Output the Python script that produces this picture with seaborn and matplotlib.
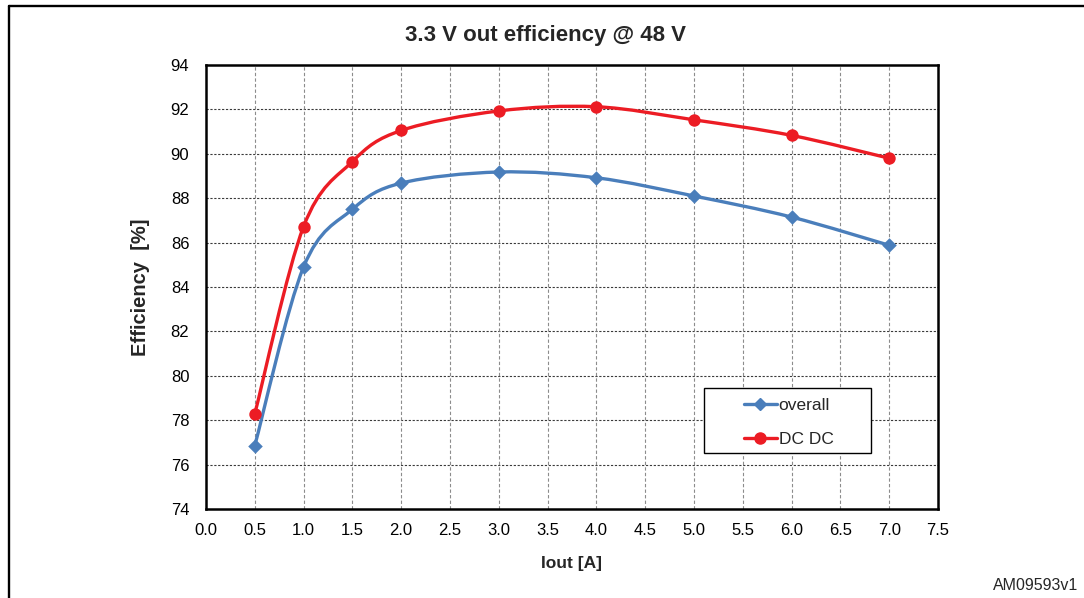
import matplotlib
matplotlib.use("Agg")
import matplotlib.pyplot as plt
from matplotlib.path import Path
from matplotlib.patches import PathPatch, Rectangle
from matplotlib.lines import Line2D
import seaborn as sns

# Output current [A] and measured efficiency [%]
iout = [0.5, 1.0, 1.5, 2.0, 3.0, 4.0, 5.0, 6.0, 7.0]
eff_overall = [76.85, 84.9, 87.5, 88.68, 89.18, 88.92, 88.1, 87.15, 85.88]
eff_dcdc = [78.28, 86.72, 89.65, 91.05, 91.93, 92.12, 91.53, 90.83, 89.8]

x_ticks = [0.0, 0.5, 1.0, 1.5, 2.0, 2.5, 3.0, 3.5, 4.0, 4.5, 5.0, 5.5, 6.0, 6.5, 7.0, 7.5]
y_ticks = [74, 76, 78, 80, 82, 84, 86, 88, 90, 92, 94]

BLUE = "#4A7EBB"
RED = "#EC1C24"

sns.set_theme(style="white")
plt.rcParams["font.family"] = ["Liberation Sans", "DejaVu Sans"]


def smooth_path(xs, ys):
    """Cubic Bezier path through the points (Catmull-Rom style control points)."""
    pts = list(zip(xs, ys))
    verts = [pts[0]]
    codes = [Path.MOVETO]
    n = len(pts)
    for i in range(n - 1):
        p0 = pts[max(i - 1, 0)]
        p1 = pts[i]
        p2 = pts[i + 1]
        p3 = pts[min(i + 2, n - 1)]
        c1 = (p1[0] + (p2[0] - p0[0]) / 6, p1[1] + (p2[1] - p0[1]) / 6)
        c2 = (p2[0] - (p3[0] - p1[0]) / 6, p2[1] - (p3[1] - p1[1]) / 6)
        verts += [c1, c2, p2]
        codes += [Path.CURVE4] * 3
    return Path(verts, codes)


fig = plt.figure(figsize=(10.84, 5.98), dpi=100)
ax = fig.add_axes([0.190, 0.1488, 0.6753, 0.7425])

for ys, color in [(eff_overall, BLUE), (eff_dcdc, RED)]:
    ax.add_patch(PathPatch(smooth_path(iout, ys), facecolor="none",
                           edgecolor=color, lw=2.4, zorder=3,
                           capstyle="round", joinstyle="round"))

sns.scatterplot(x=iout, y=eff_overall, marker="D", s=55, color=BLUE,
                edgecolor=BLUE, linewidth=0, ax=ax, zorder=4)
sns.scatterplot(x=iout, y=eff_dcdc, marker="o", s=80, color=RED,
                edgecolor=RED, linewidth=0, ax=ax, zorder=4)

ax.set_xlim(0, 7.5)
ax.set_ylim(74, 94)
ax.set_xticks(x_ticks)
ax.set_xticklabels([f"{v:.1f}" for v in x_ticks])
ax.set_yticks(y_ticks)
ax.set_yticklabels([str(v) for v in y_ticks])
ax.tick_params(axis="both", length=0, labelsize=12, colors="black")
ax.tick_params(axis="y", pad=12)
ax.tick_params(axis="x", pad=10)

# Dashed grid: darker horizontal, lighter vertical
for v in y_ticks[1:-1]:
    ax.axhline(v, color="#3a3a3a", lw=0.8, ls=(0, (2, 1.5)), zorder=1)
for v in x_ticks[1:-1]:
    ax.axvline(v, color="#8c8c8c", lw=0.8, ls=(0, (3, 2)), zorder=1)

for sp in ax.spines.values():
    sp.set_visible(True)
    sp.set_color("black")
    sp.set_linewidth(1.8)

ax.set_xlabel("Iout [A]", fontsize=12.5, fontweight="bold")
ax.set_ylabel("Efficiency  [%]", fontsize=14.5, fontweight="bold")
ax.xaxis.set_label_coords(0.5, -0.106)
ax.yaxis.set_label_coords(-0.077, 0.5)

# Legend box and entries
ax.add_patch(Rectangle((0.680, 0.126), 0.228, 0.146, transform=ax.transAxes,
                       facecolor="white", edgecolor="black", lw=1.0, zorder=5))
handles = [
    Line2D([], [], color=BLUE, lw=2.4, marker="D", markersize=6),
    Line2D([], [], color=RED, lw=2.4, marker="o", markersize=8),
]
leg = ax.legend(handles, ["overall", "DC DC"], loc="center left",
                bbox_to_anchor=(0.735, 0.195), fontsize=12.5, frameon=False,
                handlelength=1.9, handletextpad=0.1, labelspacing=1.05,
                borderpad=0, borderaxespad=0)
leg.set_zorder(6)

fig.text(0.503, 1 - 35 / 598, "3.3 V out efficiency @ 48 V", ha="center",
         va="center", fontsize=16, fontweight="bold")
fig.text(1078 / 1084, 8 / 598, "AM09593v1", ha="right", va="baseline",
         fontsize=11.5)

# Outer frame (top and left edges)
fig.add_artist(Line2D([9 / 1084, 1.0], [1 - 6 / 598, 1 - 6 / 598],
                      transform=fig.transFigure, color="black", lw=1.7))
fig.add_artist(Line2D([9 / 1084, 9 / 1084], [0.0, 1 - 6 / 598],
                      transform=fig.transFigure, color="black", lw=1.7))

fig.savefig("out.png", dpi=100, facecolor="white")
